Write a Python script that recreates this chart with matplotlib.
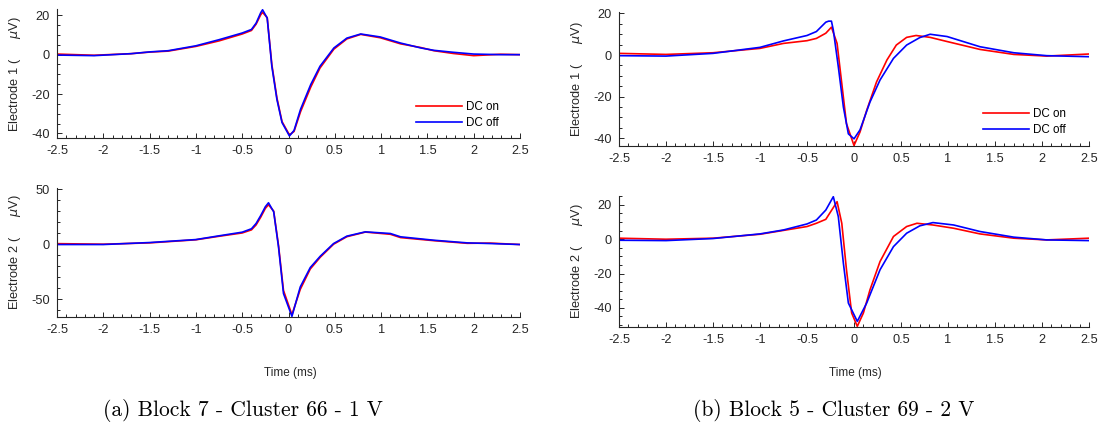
import matplotlib
matplotlib.use("Agg")
import matplotlib.pyplot as plt
from matplotlib.ticker import MultipleLocator

plt.rcParams['font.family'] = ['Liberation Sans', 'DejaVu Sans']
plt.rcParams['axes.unicode_minus'] = False
plt.rcParams['mathtext.fontset'] = 'dejavusans'

# ---------------- data (time in ms, amplitude in uV) ----------------
# Block 7 - Cluster 66 - Electrode 1
a1_t = [-2.5, -2.1, -1.7, -1.5, -1.3, -1.0, -0.75, -0.5, -0.4, -0.35, -0.3, -0.28, -0.23,
        -0.18, -0.125, -0.07, 0.01, 0.06, 0.13, 0.24, 0.34, 0.49, 0.63, 0.78, 0.99, 1.21,
        1.43, 1.57, 1.78, 2.0, 2.29, 2.5]
a1_off = [-0.2, -0.5, 0.5, 1.4, 2.0, 4.5, 7.6, 11.0, 12.8, 16.0, 21.3, 22.8, 18.6,
          -5.9, -22.8, -34.5, -41.3, -38.5, -27.8, -15.2, -5.9, 3.4, 8.4, 10.5, 9.0, 5.9,
          3.4, 2.2, 1.2, 0.3, 0.0, 0.0]
a1_on = [0.3, -0.3, 0.5, 1.3, 1.8, 4.2, 7.0, 10.5, 12.3, 15.5, 20.3, 21.5, 18.8,
         -5.0, -22.0, -34.0, -40.8, -39.0, -29.0, -16.5, -6.8, 2.8, 8.0, 10.3, 8.6, 5.5,
         3.6, 2.0, 0.6, -0.5, 0.2, 0.0]

# Block 7 - Cluster 66 - Electrode 2
a2_t = [-2.5, -2.0, -1.5, -1.0, -0.75, -0.5, -0.4, -0.35, -0.3, -0.25, -0.216, -0.16,
        -0.108, -0.054, 0.037, 0.127, 0.235, 0.343, 0.487, 0.63, 0.83, 1.1, 1.21, 1.57,
        1.93, 2.18, 2.5]
a2_off = [-0.3, -0.3, 1.5, 4.2, 7.6, 10.9, 14.0, 18.8, 26.0, 34.0, 37.6, 29.4,
          -2.4, -44.8, -65.5, -38.8, -21.2, -10.9, 0.6, 7.3, 11.2, 9.7, 6.7, 3.6,
          1.2, 0.6, -0.3]
a2_on = [0.5, 0.0, 1.2, 4.0, 7.2, 10.2, 13.0, 17.5, 24.5, 32.5, 35.8, 30.0,
         -1.0, -42.0, -64.0, -41.0, -22.5, -11.8, 0.0, 6.8, 11.0, 9.0, 6.0, 3.2,
         0.8, 1.0, -0.3]

# Block 5 - Cluster 69 - Electrode 1
b1_t_off = [-2.5, -2.0, -1.5, -1.0, -0.75, -0.5, -0.4, -0.3, -0.27, -0.24, -0.22, -0.167,
            -0.113, -0.06, 0.0, 0.064, 0.17, 0.277, 0.42, 0.56, 0.70, 0.81, 0.99, 1.34,
            1.7, 2.05, 2.5]
b1_off = [-0.3, -0.5, 0.8, 3.7, 6.8, 9.4, 11.3, 15.8, 16.3, 16.3, 12.0, -5.6,
          -25.0, -37.9, -40.3, -36.0, -22.6, -12.0, -1.6, 4.8, 8.4, 10.0, 8.9, 4.0,
          1.1, -0.3, -0.8]
b1_t_on = [-2.5, -2.0, -1.5, -1.0, -0.75, -0.5, -0.4, -0.3, -0.24, -0.18, -0.13, -0.08,
           0.0, 0.064, 0.135, 0.24, 0.35, 0.45, 0.56, 0.66, 0.81, 0.99, 1.34, 1.7, 2.05, 2.5]
b1_on = [0.8, 0.3, 1.1, 3.2, 5.6, 6.9, 8.0, 10.5, 13.4, 5.6, -13.7, -33.0,
         -43.5, -37.0, -26.6, -12.9, -2.4, 4.8, 8.5, 9.4, 8.5, 6.5, 2.7, 0.3, -0.5, 0.5]

# Block 5 - Cluster 69 - Electrode 2
b2_t_off = [-2.5, -2.0, -1.5, -1.0, -0.75, -0.5, -0.4, -0.3, -0.22, -0.167, -0.113, -0.06,
            0.035, 0.135, 0.277, 0.42, 0.56, 0.70, 0.84, 1.06, 1.34, 1.7, 2.05, 2.5]
b2_off = [-0.6, -0.8, 0.4, 3.1, 5.4, 8.9, 11.2, 17.0, 24.8, 13.2, -14.0, -37.2,
          -47.9, -37.2, -17.8, -4.3, 3.5, 7.8, 9.7, 8.3, 4.5, 1.2, -0.4, -0.8]
b2_t_on = [-2.5, -2.0, -1.5, -1.0, -0.5, -0.4, -0.3, -0.18, -0.13, -0.08, -0.025, 0.035,
           0.1, 0.17, 0.277, 0.42, 0.56, 0.67, 0.84, 1.06, 1.34, 1.7, 2.05, 2.5]
b2_on = [0.6, 0.0, 0.6, 2.9, 7.4, 9.3, 11.6, 21.9, 9.3, -17.8, -43.0, -50.8,
         -43.0, -29.5, -13.0, 1.6, 7.4, 9.3, 8.3, 6.4, 3.1, 0.6, -0.4, 0.6]

x_ticks = [-2.5, -2, -1.5, -1, -0.5, 0, 0.5, 1, 1.5, 2, 2.5]
x_ticklabels = ['-2.5', '-2', '-1.5', '-1', '-0.5', '0', '0.5', '1', '1.5', '2', '2.5']
legend_labels = ['DC on', 'DC off']
captions = ['(a) Block 7 - Cluster 66 - 1 V', '(b) Block 5 - Cluster 69 - 2 V']
xlabel = 'Time (ms)'

# ---------------- figure ----------------
W, H = 1102, 428
fig = plt.figure(figsize=(W / 100, H / 100), dpi=100)

def box(x0, x1, ytop, ybot):
    return [x0 / W, 1 - ybot / H, (x1 - x0) / W, (ybot - ytop) / H]

grey = '#262626'

panels = [
    dict(rect=box(57, 520, 9, 138.3), t_on=a1_t, on=a1_on, t_off=a1_t, off=a1_off,
         ylim=(-42.5, 23.2), ymaj=20, ymin=5, ylabel='Electrode 1 (      $\\mu$V)',
         legend=(416, 101)),
    dict(rect=box(57, 520, 188, 316.7), t_on=a2_t, on=a2_on, t_off=a2_t, off=a2_off,
         ylim=(-65.8, 51), ymaj=50, ymin=10, ylabel='Electrode 2 (      $\\mu$V)', legend=None),
    dict(rect=box(619, 1089, 12, 145.7), t_on=b1_t_on, on=b1_on, t_off=b1_t_off, off=b1_off,
         ylim=(-43.6, 20.7), ymaj=20, ymin=5, ylabel='Electrode 1 (      $\\mu$V)',
         legend=(983, 108)),
    dict(rect=box(619, 1089, 196, 326.7), t_on=b2_t_on, on=b2_on, t_off=b2_t_off, off=b2_off,
         ylim=(-51, 25.2), ymaj=20, ymin=5, ylabel='Electrode 2 (      $\\mu$V)', legend=None),
]

for p in panels:
    ax = fig.add_axes(p['rect'])
    l1, = ax.plot(p['t_on'], p['on'], color=(1, 0, 0), lw=1.2, label=legend_labels[0])
    l2, = ax.plot(p['t_off'], p['off'], color=(0, 0, 1), lw=1.2, label=legend_labels[1])
    ax.set_xlim(-2.5, 2.5)
    ax.set_ylim(*p['ylim'])
    ax.set_xticks(x_ticks)
    ax.set_xticklabels(x_ticklabels)
    ax.xaxis.set_minor_locator(MultipleLocator(0.1))
    ax.yaxis.set_major_locator(MultipleLocator(p['ymaj']))
    ax.yaxis.set_minor_locator(MultipleLocator(p['ymin']))
    for s in ['top', 'right']:
        ax.spines[s].set_visible(False)
    for s in ['left', 'bottom']:
        ax.spines[s].set_color(grey)
        ax.spines[s].set_linewidth(0.8)
    ax.tick_params(which='both', direction='in', colors=grey, labelsize=9.2, width=0.7)
    ax.tick_params(which='major', length=3.5)
    ax.tick_params(which='minor', length=2)
    ax.tick_params(axis='x', pad=5)
    ax.tick_params(axis='y', pad=5)
    ax.set_ylabel(p['ylabel'], fontsize=9.2, color=grey)
    ax.yaxis.set_label_coords(-34 / (p['rect'][2] * W), 0.5)
    if p['legend'] is not None:
        lx, ly = p['legend']
        ax.legend(handles=[l1, l2], loc='upper left', frameon=False, fontsize=8.4,
                  handlelength=3.9, handletextpad=0.4, labelspacing=0.35,
                  borderpad=0, borderaxespad=0,
                  bbox_to_anchor=(lx / W, 1 - ly / H), bbox_transform=fig.transFigure)

fig.text(290 / W, 1 - 373 / H, xlabel, ha='center', va='center', fontsize=8.5, color=grey)
fig.text(855 / W, 1 - 373 / H, xlabel, ha='center', va='center', fontsize=8.5, color=grey)

fig.text(243 / W, 1 - 410 / H, captions[0], ha='center', va='center', fontsize=15.5,
         family='cmr10')
fig.text(834 / W, 1 - 410 / H, captions[1], ha='center', va='center', fontsize=15.5,
         family='cmr10')

fig.savefig('out.png', dpi=100)
